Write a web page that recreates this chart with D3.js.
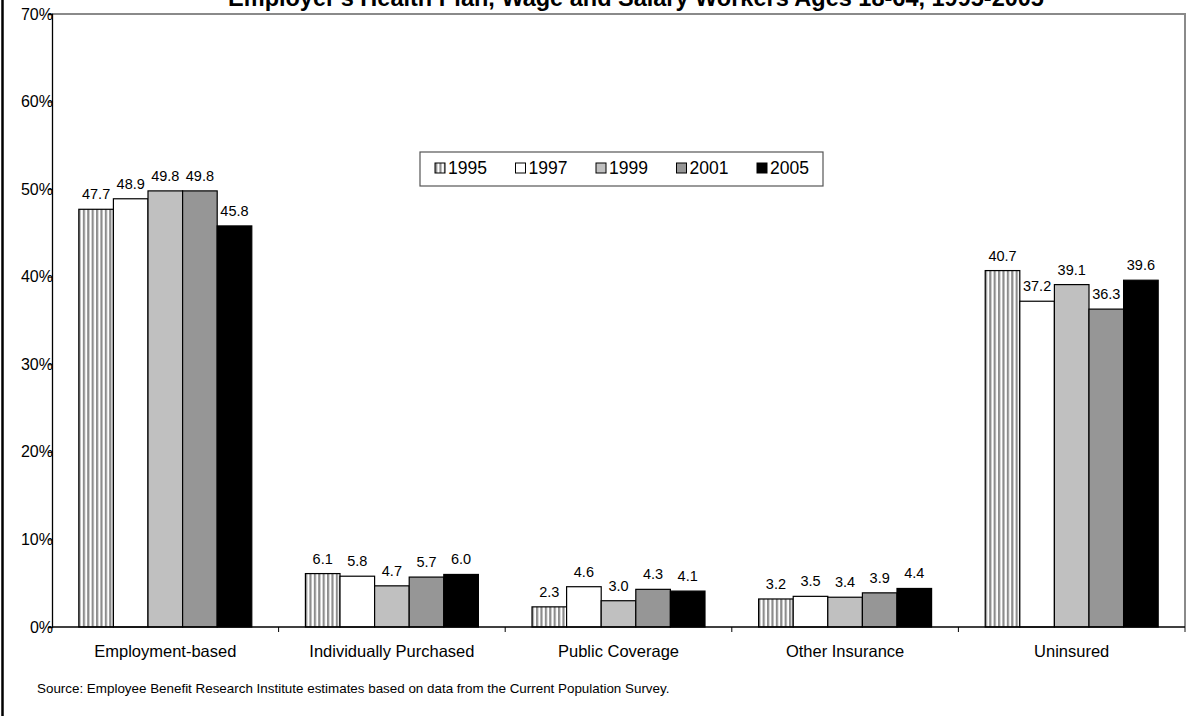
<!DOCTYPE html>
<html>
<head>
<meta charset="utf-8">
<script src="https://cdn.jsdelivr.net/npm/d3@7"></script>
<style>
  html, body { margin: 0; padding: 0; background: #fff; }
  svg { display: block; font-family: Arial, "Liberation Sans", sans-serif; }
</style>
</head>
<body>
<svg id="chart" width="1189" height="716"></svg>
<script>
// Health coverage by source, percent of wage and salary workers
const categories = ["Employment-based", "Individually Purchased", "Public Coverage", "Other Insurance", "Uninsured"];
const years = ["1995", "1997", "1999", "2001", "2005"];
const values1995 = [47.7, 6.1, 2.3, 3.2, 40.7];
const values1997 = [48.9, 5.8, 4.6, 3.5, 37.2];
const values1999 = [49.8, 4.7, 3.0, 3.4, 39.1];
const values2001 = [49.8, 5.7, 4.3, 3.9, 36.3];
const values2005 = [45.8, 6.0, 4.1, 4.4, 39.6];
const yTicks = [0, 10, 20, 30, 40, 50, 60, 70];
const titleText = "Employer's Health Plan, Wage and Salary Workers Ages 18-64, 1995-2005";
const sourceText = "Source: Employee Benefit Research Institute estimates based on data from the Current Population Survey.";

const seriesValues = [values1995, values1997, values1999, values2001, values2005];
const rows = categories.map((c, i) => ({
  category: c,
  values: years.map((y, j) => ({ year: y, value: seriesValues[j][i] }))
}));

const svg = d3.select("#chart");
const plot = { left: 52, right: 1185, top: 14, bottom: 627 };

const x0 = d3.scaleBand().domain(categories).range([plot.left, plot.right]).padding(0);
const x1 = d3.scaleBand().domain(years).range([0, x0.bandwidth()]).paddingInner(0).paddingOuter(0.775);
const y = d3.scaleLinear().domain([0, 70]).range([plot.bottom, plot.top]);

const fills = { "1995": "url(#stripes)", "1997": "#ffffff", "1999": "#c0c0c0", "2001": "#969696", "2005": "#000000" };

// vertical stripe pattern for the 1995 series
const defs = svg.append("defs");
const pat = defs.append("pattern").attr("id", "stripes")
  .attr("patternUnits", "userSpaceOnUse").attr("width", 4.4).attr("height", 10);
pat.append("rect").attr("width", 4.4).attr("height", 10).attr("fill", "#ffffff");
pat.append("rect").attr("x", 0).attr("width", 2.2).attr("height", 10).attr("fill", "#8c8c8c");

// outer frame line on the left edge
svg.append("line").attr("x1", 2.5).attr("x2", 2.5).attr("y1", 0).attr("y2", 716)
  .attr("stroke", "#000").attr("stroke-width", 2.5);

// plot area border (top and right)
svg.append("path")
  .attr("d", `M${plot.left},${plot.top}H${plot.right}V${plot.bottom + 5}`)
  .attr("fill", "none").attr("stroke", "#8a8a8a").attr("stroke-width", 2);

// title, sitting at the very top edge
svg.append("text").attr("x", 636).attr("y", 6).attr("text-anchor", "middle")
  .attr("font-weight", "bold").attr("font-size", 23.5).text(titleText);

// bars
const groups = svg.append("g").selectAll("g").data(rows).join("g")
  .attr("transform", d => `translate(${x0(d.category)},0)`);

groups.selectAll("rect").data(d => d.values).join("rect")
  .attr("x", d => x1(d.year))
  .attr("y", d => y(d.value))
  .attr("width", x1.bandwidth())
  .attr("height", d => y(0) - y(d.value))
  .attr("fill", d => fills[d.year])
  .attr("stroke", "#000").attr("stroke-width", 1.2);

groups.selectAll("text").data(d => d.values).join("text")
  .attr("x", d => x1(d.year) + x1.bandwidth() / 2)
  .attr("y", d => y(d.value) - 10)
  .attr("text-anchor", "middle").attr("font-size", 14.5)
  .text(d => d.value.toFixed(1));

// y axis
const yAxis = svg.append("g").attr("transform", `translate(${plot.left},0)`)
  .call(d3.axisLeft(y).tickValues(yTicks).tickFormat(d => d + "%").tickSize(4).tickPadding(-5));
yAxis.select(".domain").attr("stroke", "#000").attr("stroke-width", 1.3);
yAxis.selectAll("text").attr("font-size", 16).attr("font-family", "Arial, 'Liberation Sans', sans-serif").attr("fill", "#000");

// x axis with tick marks at category boundaries
const xAxisG = svg.append("g").attr("transform", `translate(0,${plot.bottom})`);
xAxisG.append("line").attr("x1", plot.left).attr("x2", plot.right).attr("stroke", "#000").attr("stroke-width", 1.3);
xAxisG.selectAll("line.tick").data(categories.slice(1)).join("line").attr("class", "tick")
  .attr("x1", d => x0(d)).attr("x2", d => x0(d)).attr("y1", 0).attr("y2", 5)
  .attr("stroke", "#000");
xAxisG.selectAll("text").data(categories).join("text")
  .attr("x", d => x0(d) + x0.bandwidth() / 2).attr("y", 30)
  .attr("text-anchor", "middle").attr("font-size", 16.5).text(d => d);

// legend
const legend = svg.append("g").attr("transform", "translate(420,152)");
legend.append("rect").attr("width", 403).attr("height", 34)
  .attr("fill", "#fff").attr("stroke", "#555").attr("stroke-width", 1.2);
const items = legend.selectAll("g").data(years).join("g")
  .attr("transform", (d, i) => `translate(${15 + i * 80.5},11)`);
items.append("rect").attr("width", 10).attr("height", 10)
  .attr("fill", d => fills[d]).attr("stroke", "#000").attr("stroke-width", 1);
items.append("text").attr("x", 13).attr("y", 11).attr("font-size", 17.5).text(d => d);

// source note
svg.append("text").attr("x", 37).attr("y", 693).attr("font-size", 13.4).text(sourceText);
</script>
</body>
</html>
